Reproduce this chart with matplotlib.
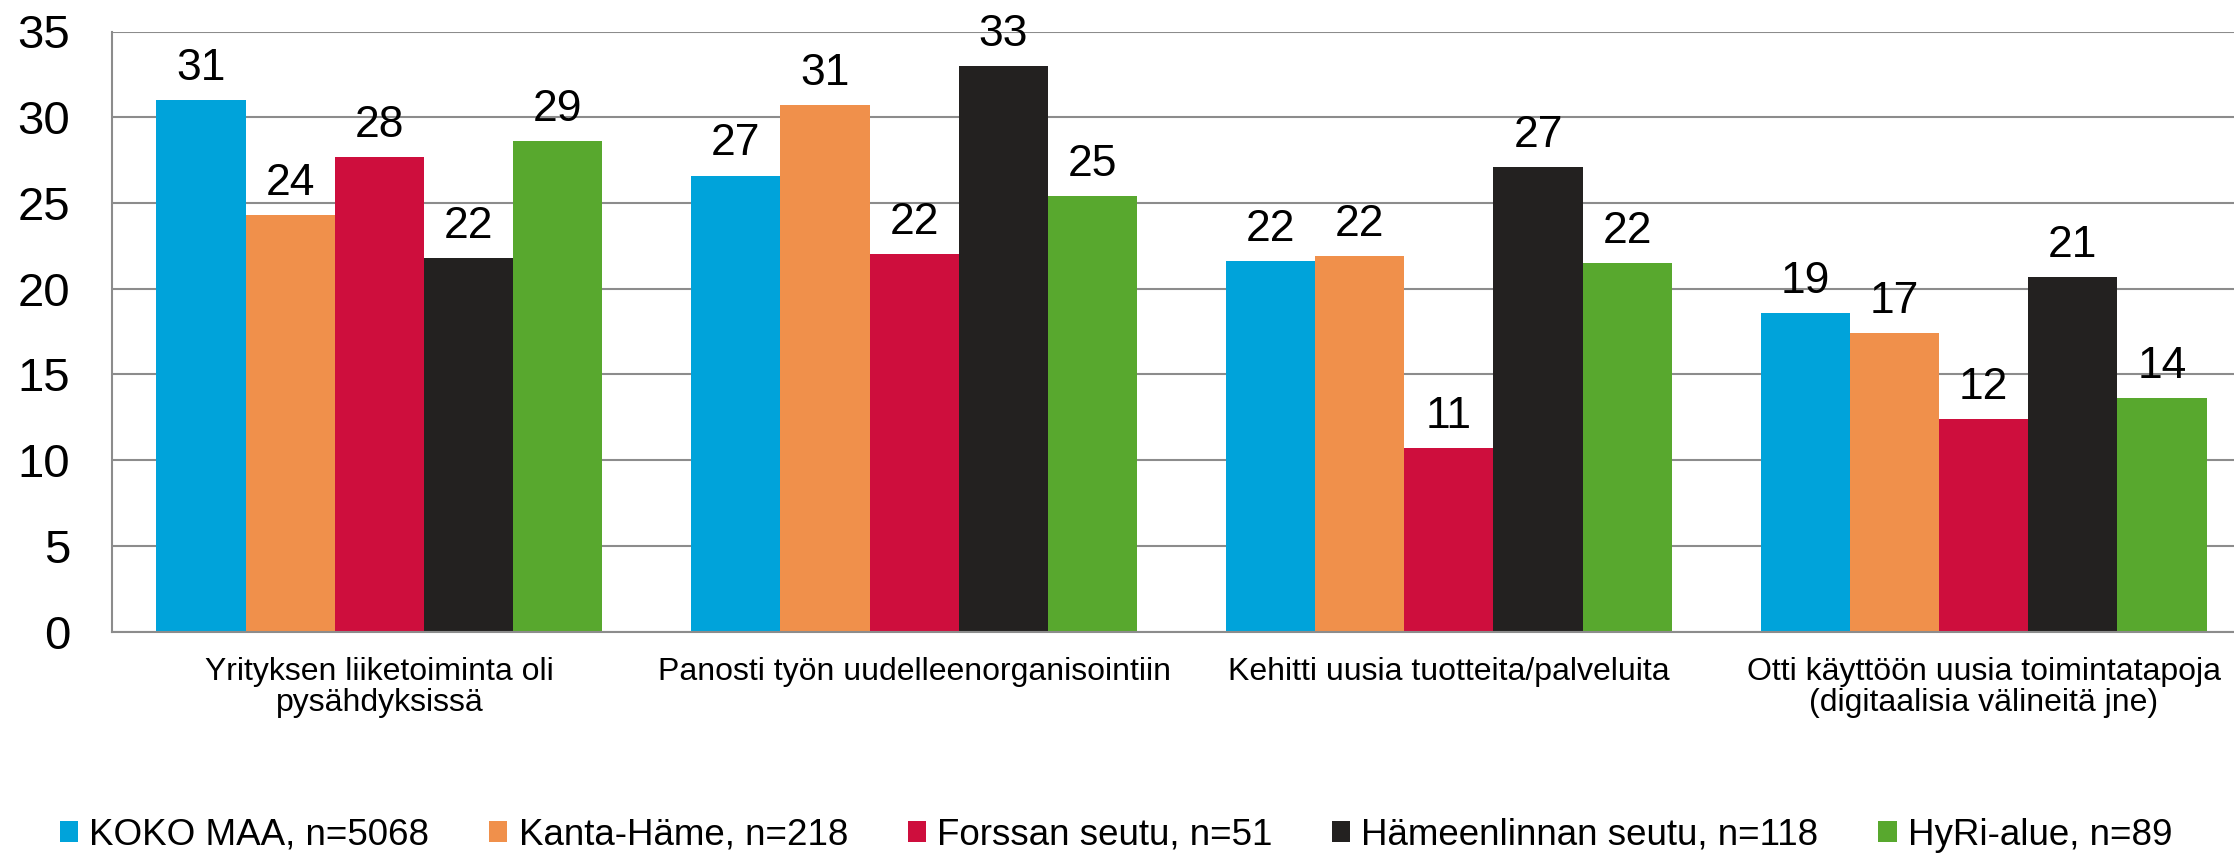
"""Grouped bar chart: changes in business operations by region"""
import matplotlib
matplotlib.use('Agg')
import matplotlib.pyplot as plt
import numpy as np

plt.rcParams['font.family'] = ['Liberation Sans', 'DejaVu Sans']

categories = [
    "Yrityksen liiketoiminta oli\npysähdyksissä",
    "Panosti työn uudelleenorganisointiin",
    "Kehitti uusia tuotteita/palveluita",
    "Otti käyttöön uusia toimintatapoja\n(digitaalisia välineitä jne)",
]
series_names = [
    "KOKO MAA, n=5068",
    "Kanta-Häme, n=218",
    "Forssan seutu, n=51",
    "Hämeenlinnan seutu, n=118",
    "HyRi-alue, n=89",
]
koko_maa = [31.0, 26.6, 21.6, 18.6]
kanta_hame = [24.3, 30.7, 21.9, 17.4]
forssa = [27.7, 22.0, 10.7, 12.4]
hameenlinna = [21.8, 33.0, 27.1, 20.7]
hyri = [28.6, 25.4, 21.5, 13.6]
values = [koko_maa, kanta_hame, forssa, hameenlinna, hyri]
colors = ["#00A3DA", "#F0904B", "#CE0E3D", "#232120", "#58A82E"]

W, H = 2234, 856
fig = plt.figure(figsize=(W / 100, H / 100), dpi=100)
ax = fig.add_axes([112 / W, 1 - 631.7 / H, (2251 - 112) / W, (631.7 - 31.5) / H])

x = np.arange(len(categories))
bw = 0.1668
for j, (name, vals, col) in enumerate(zip(series_names, values, colors)):
    pos = x + (j - 2) * bw
    ax.bar(pos, vals, bw, color=col, label=name, zorder=2)
    for p, v in zip(pos, vals):
        ax.annotate(str(int(v + 0.5)), (p, v), xytext=(0, 8), textcoords='offset points',
                    ha='center', va='bottom', fontsize=32)

ax.set_xlim(-0.5, 3.5)
ax.set_ylim(0, 35)
ax.set_yticks(range(0, 36, 5))
ax.grid(axis='y', color='#8c8c8c', linewidth=1.5, zorder=0)
ax.set_axisbelow(True)
for s in ['top', 'right']:
    ax.spines[s].set_visible(False)
for s in ['left', 'bottom']:
    ax.spines[s].set_color('#8c8c8c')
    ax.spines[s].set_linewidth(1.5)
ax.tick_params(axis='y', length=0, pad=30, labelsize=34)
ax.tick_params(axis='x', length=0, pad=18)
ax.set_xticks(x)
ax.set_xticklabels(categories, fontsize=23, linespacing=1.05)

fig.legend(loc='center left', bbox_to_anchor=(60 / W, 0.024), ncol=5, frameon=False,
           fontsize=26.5, handlelength=0.5, handleheight=0.5, handletextpad=0.3,
           columnspacing=1.62, borderpad=0, borderaxespad=0)

plt.savefig('out.png', dpi=100)
